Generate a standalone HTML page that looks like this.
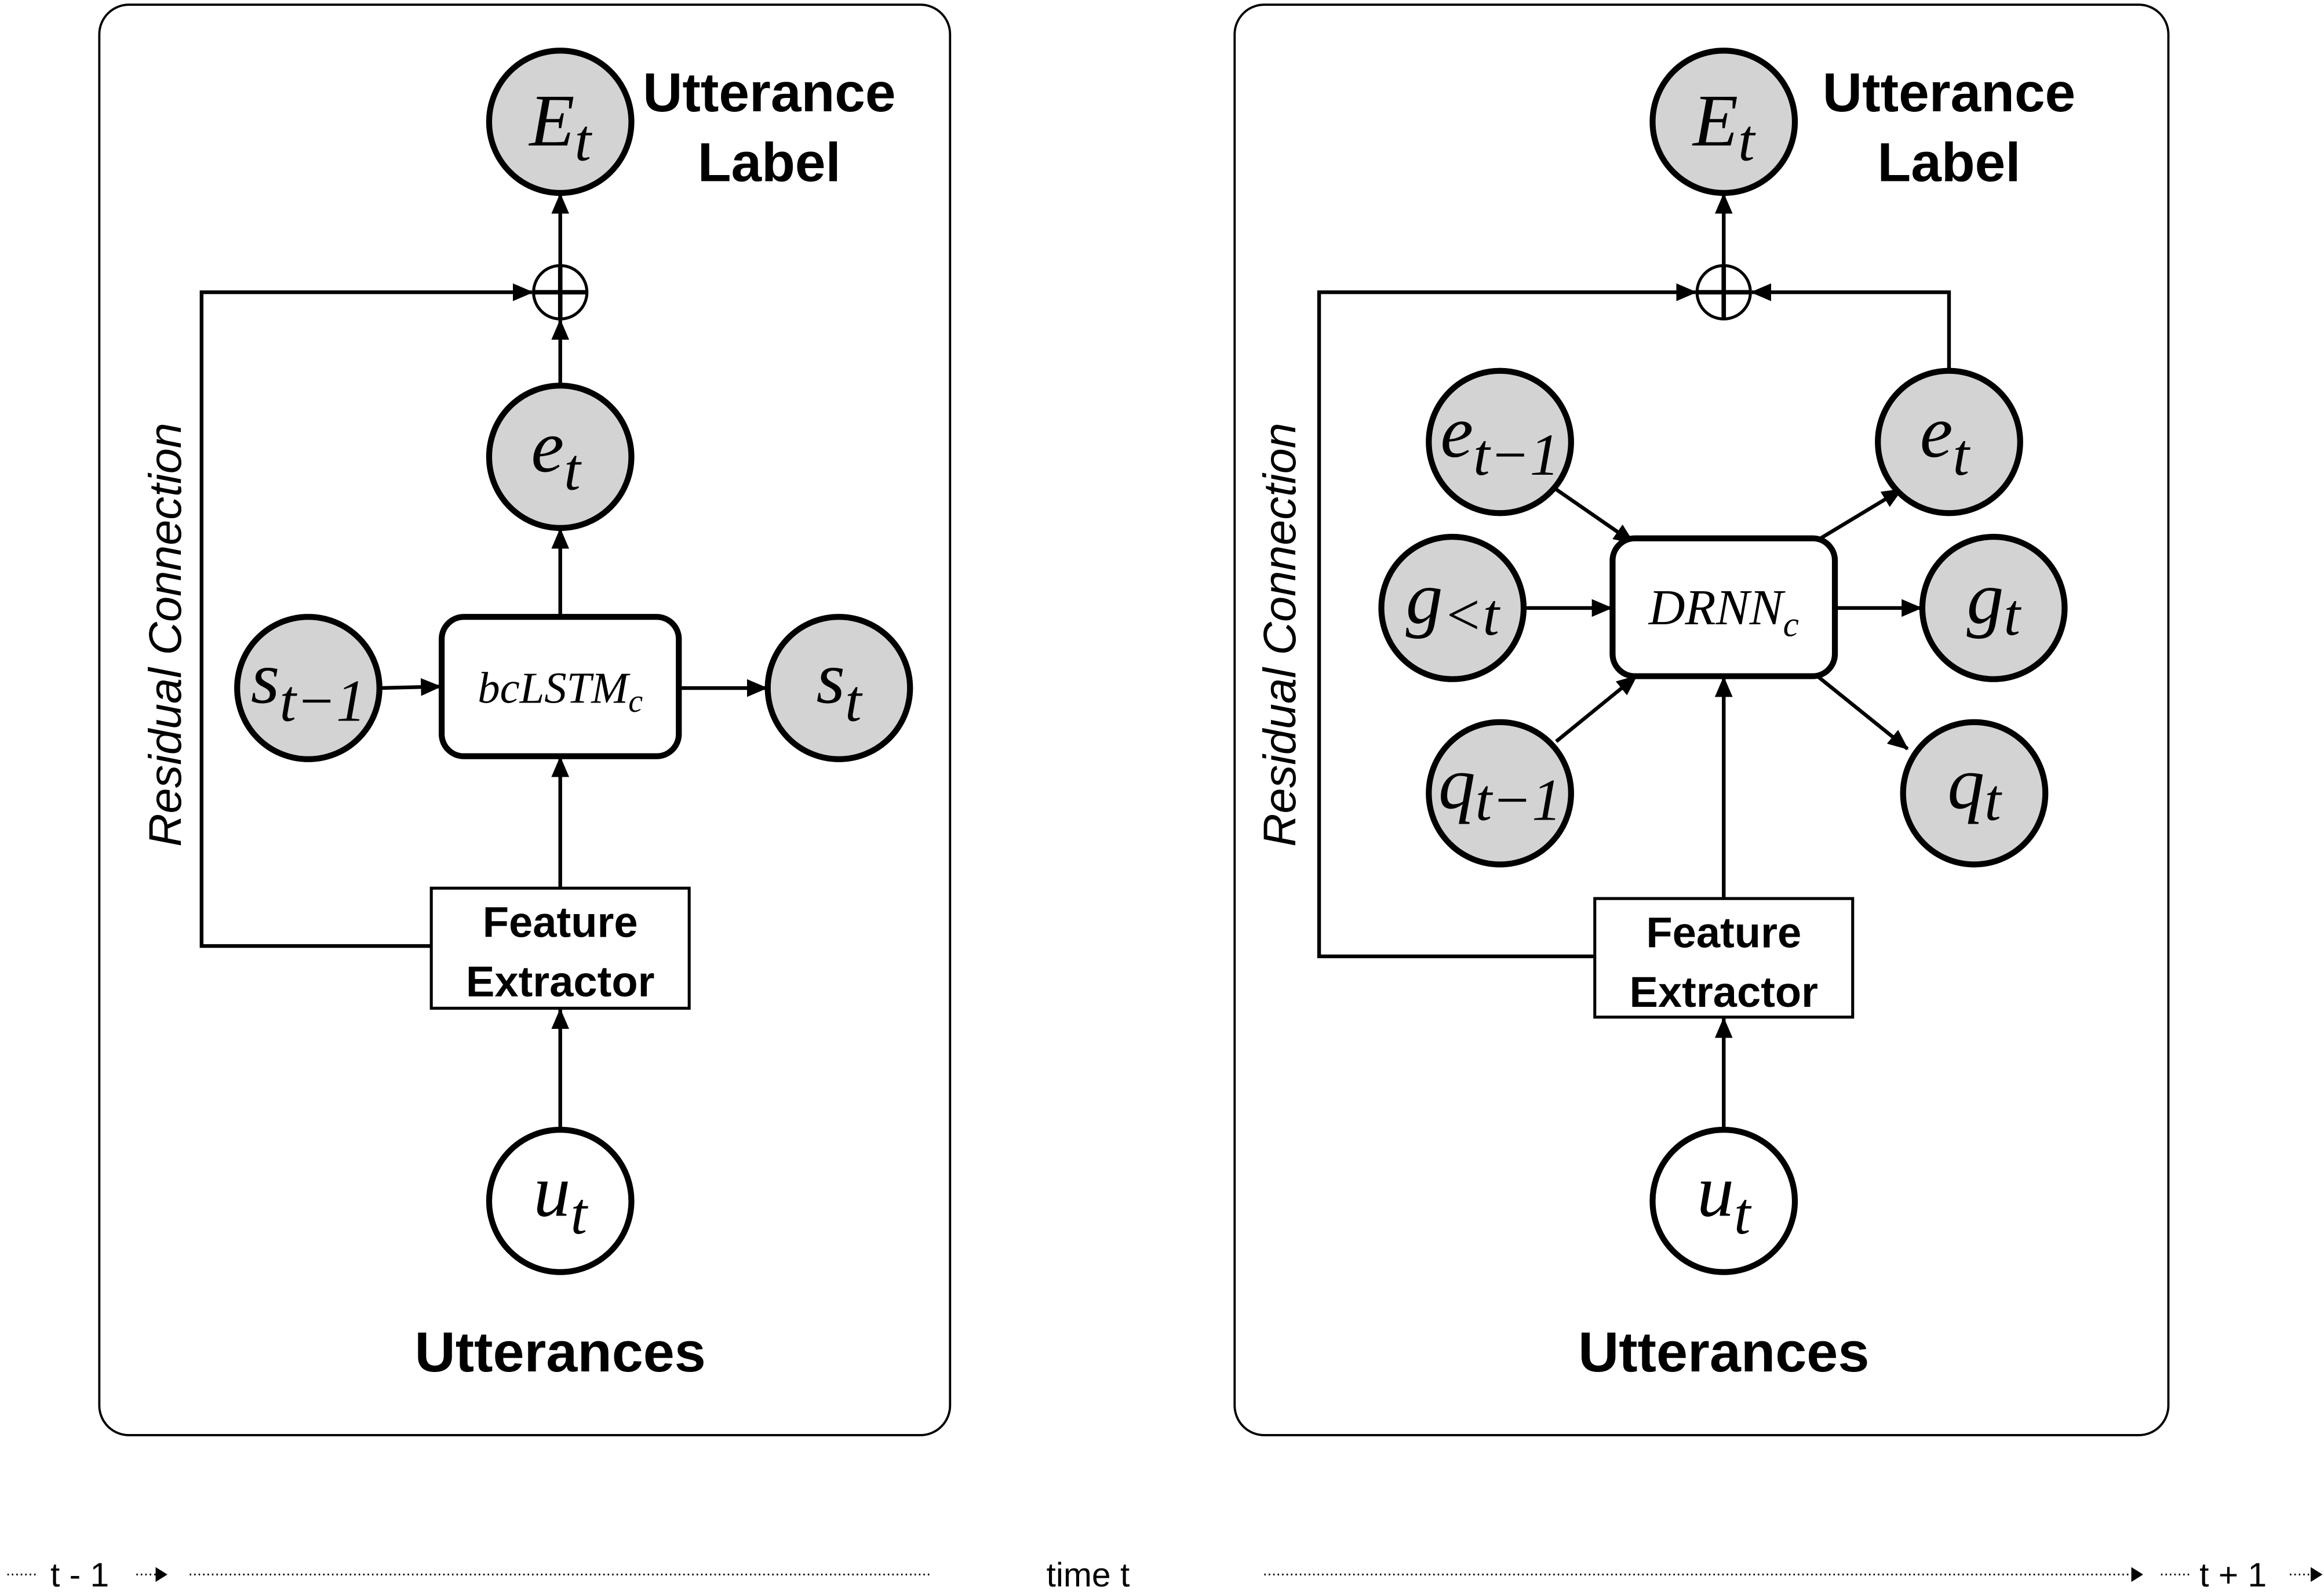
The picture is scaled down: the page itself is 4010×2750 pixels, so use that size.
<!DOCTYPE html>
<html><head><meta charset="utf-8"><style>html,body{margin:0;padding:0;background:#fff}svg{display:block}</style></head>
<body>
<svg width="4010" height="2750" viewBox="0 0 1568 1075" xmlns="http://www.w3.org/2000/svg">
<defs>
<marker id="a" markerWidth="14" markerHeight="12" refX="13" refY="6" orient="auto" markerUnits="userSpaceOnUse" viewBox="0 0 14 12"><path d="M0,0 L14,6 L0,12 z" fill="#000"/></marker>
<marker id="s" markerWidth="8" markerHeight="10" refX="7" refY="5" orient="auto" markerUnits="userSpaceOnUse" viewBox="0 0 8 10"><path d="M0,0 L8,5 L0,10 z" fill="#000"/></marker>
</defs>
<g fill="none" stroke="#000">
<rect x="67" y="3" width="574" height="965" rx="20" stroke-width="1.5"/>
<rect x="833" y="3" width="630" height="965" rx="20" stroke-width="1.5"/>
</g>
<g stroke="#000" stroke-width="2.5" fill="none" marker-end="url(#a)">
<line x1="378" y1="179" x2="378" y2="131"/>
<line x1="378" y1="260" x2="378" y2="216"/>
<line x1="378" y1="416" x2="378" y2="357"/>
<line x1="256" y1="464" x2="297" y2="463"/>
<line x1="458" y1="464" x2="517" y2="464"/>
<line x1="378" y1="599" x2="378" y2="511"/>
<line x1="378" y1="762" x2="378" y2="681"/>
<polyline points="291,638 136,638 136,197 359,197"/>
<line x1="1163" y1="179" x2="1163" y2="131"/>
<polyline points="1076,645 890,645 890,197 1144,197"/>
<polyline points="1315,250 1315,197 1182,197"/>
<line x1="1050" y1="330" x2="1102" y2="366"/>
<line x1="1030" y1="410" x2="1087" y2="410"/>
<line x1="1050" y1="500" x2="1104" y2="456"/>
<line x1="1225" y1="365" x2="1283" y2="330"/>
<line x1="1238" y1="410" x2="1296" y2="410"/>
<line x1="1225" y1="455" x2="1287" y2="505"/>
<line x1="1163" y1="606" x2="1163" y2="457"/>
<line x1="1163" y1="762" x2="1163" y2="687"/>
</g>
<g stroke="#000" stroke-width="4" fill="#d3d3d3">
<circle cx="378" cy="82" r="48"/><circle cx="378" cy="308" r="48"/>
<circle cx="208" cy="464" r="48"/><circle cx="566" cy="464" r="48"/>
<circle cx="1163" cy="82" r="48"/><circle cx="1315" cy="298" r="48"/>
<circle cx="1012" cy="298" r="48"/><circle cx="980" cy="410" r="48"/>
<circle cx="1012" cy="535" r="48"/><circle cx="1345" cy="410" r="48"/>
<circle cx="1332" cy="535" r="48"/>
<circle cx="378" cy="810" r="48" fill="#fff"/><circle cx="1163" cy="810" r="48" fill="#fff"/>
<rect x="298" y="416" width="160" height="94" rx="15" fill="#fff"/>
<rect x="1088" y="363" width="150" height="93" rx="15" fill="#fff"/>
</g>
<g stroke="#000" stroke-width="2" fill="#fff">
<rect x="291" y="599" width="174" height="81"/>
<rect x="1076" y="606" width="174" height="80"/>
<circle cx="378" cy="197" r="18"/><circle cx="1163" cy="197" r="18"/>
</g>
<g stroke="#000" stroke-width="3">
<line x1="360" y1="197" x2="396" y2="197"/><line x1="378" y1="179" x2="378" y2="215"/>
<line x1="1145" y1="197" x2="1181" y2="197"/><line x1="1163" y1="179" x2="1163" y2="215"/>
</g>
<g font-family="Liberation Serif, serif" font-style="italic" font-size="50" text-anchor="middle" fill="#000">
<text x="378" y="98">E<tspan font-size="40" dy="10">t</tspan></text>
<text x="1163" y="98">E<tspan font-size="40" dy="10">t</tspan></text>
<text x="375" y="318">e<tspan font-size="40" dy="12">t</tspan></text>
<text x="1312" y="308">e<tspan font-size="40" dy="12">t</tspan></text>
<text x="208" y="474">s<tspan font-size="40" dy="12">t−1</tspan></text>
<text x="566" y="474">s<tspan font-size="40" dy="12">t</tspan></text>
<text x="1012" y="308">e<tspan font-size="40" dy="12">t−1</tspan></text>
<text x="980" y="420">g<tspan font-size="40" dy="8">&lt;t</tspan></text>
<text x="1012" y="545">q<tspan font-size="40" dy="8">t−1</tspan></text>
<text x="1345" y="420">g<tspan font-size="40" dy="8">t</tspan></text>
<text x="1332" y="545">q<tspan font-size="40" dy="8">t</tspan></text>
<text x="378" y="820">u<tspan font-size="40" dy="12">t</tspan></text>
<text x="1163" y="820">u<tspan font-size="40" dy="12">t</tspan></text>
<text x="378" y="474" font-size="30">bcLSTM<tspan font-size="22" dy="6">c</tspan></text>
<text x="1163" y="421" font-size="34">DRNN<tspan font-size="24" dy="8">c</tspan></text>
</g>
<g font-family="Liberation Sans, sans-serif" font-weight="bold" text-anchor="middle" fill="#000">
<text x="519" y="75" font-size="37">Utterance</text><text x="519" y="122" font-size="37">Label</text>
<text x="1315" y="75" font-size="37">Utterance</text><text x="1315" y="122" font-size="37">Label</text>
<text x="378" y="632" font-size="29">Feature</text><text x="378" y="672" font-size="29">Extractor</text>
<text x="1163" y="639" font-size="29">Feature</text><text x="1163" y="679" font-size="29">Extractor</text>
<text x="378" y="925" font-size="38">Utterances</text>
<text x="1163" y="925" font-size="38">Utterances</text>
</g>
<g font-family="Liberation Sans, sans-serif" font-style="italic" font-size="31" text-anchor="middle" fill="#000">
<text transform="translate(122,428) rotate(-90)">Residual Connection</text>
<text transform="translate(874,428) rotate(-90)">Residual Connection</text>
</g>
<g font-family="Liberation Sans, sans-serif" font-size="23" fill="#000">
<text x="34" y="1070">t - 1</text>
<text x="706" y="1070">time t</text>
<text x="1484" y="1070">t + 1</text>
</g>
<g stroke="#000" stroke-width="1.2" stroke-dasharray="1,2" fill="none">
<line x1="5" y1="1062" x2="26" y2="1062"/>
<line x1="92" y1="1062" x2="112" y2="1062" marker-end="url(#s)"/>
<line x1="128" y1="1062" x2="628" y2="1062"/>
<line x1="853" y1="1062" x2="1445" y2="1062" marker-end="url(#s)"/>
<line x1="1458" y1="1062" x2="1478" y2="1062"/>
<line x1="1545" y1="1062" x2="1566" y2="1062" marker-end="url(#s)"/>
</g>
</svg>
</body></html>
